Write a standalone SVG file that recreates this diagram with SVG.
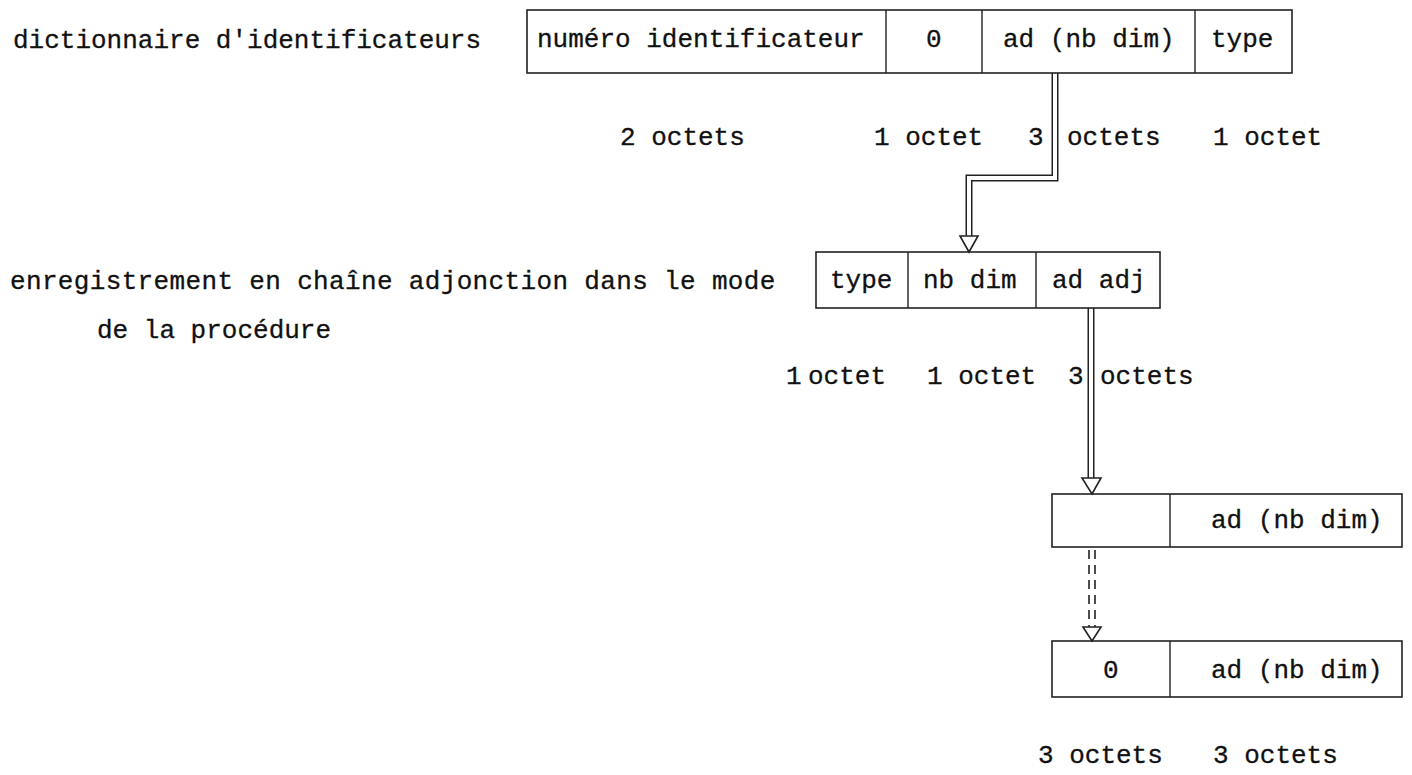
<svg xmlns="http://www.w3.org/2000/svg" width="1412" height="775" viewBox="0 0 1412 775">
<style>
  text { font-family: "Liberation Mono", "DejaVu Sans Mono", monospace; font-size: 26px; fill: #111; stroke: #111; stroke-width: 0.3; }
  .wide { letter-spacing: 0.35px; }
  .box { fill: none; stroke: #222; stroke-width: 1.6; }
  .div { stroke: #222; stroke-width: 1.4; }
  .outer { fill: none; stroke: #222; stroke-width: 7; stroke-linejoin: miter; }
  .inner { fill: none; stroke: #fff; stroke-width: 4; stroke-linejoin: miter; }
  .dash { stroke: #222; stroke-width: 1.6; stroke-dasharray: 9 6; }
  .head { fill: #fff; stroke: #222; stroke-width: 1.6; stroke-linejoin: miter; }
</style>
<rect width="1412" height="775" fill="#fff"/>

<g id="label-dictionnaire">
  <text x="13" y="48">dictionnaire d'identificateurs</text>
</g>
<g id="label-enregistrement">
  <text class="wide" x="10" y="289">enregistrement en chaîne adjonction dans le mode</text>
  <text x="97" y="338">de la procédure</text>
</g>

<g id="connectors">
  <path class="outer" d="M1055,73 V178 H969 V240"/>
  <path class="inner" d="M1055,70 V178 H969 V242"/>
  <polygon class="head" points="960,236 978,236 969,252"/>
  <path class="outer" d="M1091,308 V482"/>
  <path class="inner" d="M1091,306 V484"/>
  <polygon class="head" points="1082,478 1101,478 1092,494"/>
  <line class="dash" x1="1089" y1="550" x2="1089" y2="628"/>
  <line class="dash" x1="1095" y1="550" x2="1095" y2="628"/>
  <polygon class="head" points="1083,627 1101,627 1092,641"/>
</g>

<g id="node-dictionnaire">
  <rect class="box" x="527" y="10" width="765" height="63"/>
  <line class="div" x1="886" y1="10" x2="886" y2="73"/>
  <line class="div" x1="982" y1="10" x2="982" y2="73"/>
  <line class="div" x1="1195" y1="10" x2="1195" y2="73"/>
  <text x="537" y="47">numéro identificateur</text>
  <text x="926" y="47">0</text>
  <text x="1003" y="47">ad (nb dim)</text>
  <text x="1211" y="47">type</text>
</g>
<g id="sizes-dictionnaire">
  <text x="620" y="145">2 octets</text>
  <text x="874" y="145">1 octet</text>
  <text x="1028" y="145">3</text>
  <text x="1067" y="145">octets</text>
  <text x="1213" y="145">1 octet</text>
</g>

<g id="node-enregistrement">
  <rect class="box" x="816" y="252" width="344" height="56"/>
  <line class="div" x1="908" y1="252" x2="908" y2="308"/>
  <line class="div" x1="1036" y1="252" x2="1036" y2="308"/>
  <text x="830" y="288">type</text>
  <text x="923" y="288">nb dim</text>
  <text x="1052" y="288">ad adj</text>
</g>
<g id="sizes-enregistrement">
  <text><tspan x="786" y="384">1</tspan> <tspan x="808" y="384">octet</tspan></text>
  <text x="927" y="384">1 octet</text>
  <text x="1068" y="384">3</text>
  <text x="1100" y="384">octets</text>
</g>

<g id="node-dim1">
  <rect class="box" x="1052" y="494" width="350" height="53"/>
  <line class="div" x1="1170" y1="494" x2="1170" y2="547"/>
  <text x="1211" y="528">ad (nb dim)</text>
</g>

<g id="node-dim2">
  <rect class="box" x="1052" y="641" width="350" height="56"/>
  <line class="div" x1="1170" y1="641" x2="1170" y2="697"/>
  <text x="1103" y="678">0</text>
  <text x="1211" y="678">ad (nb dim)</text>
</g>
<g id="sizes-dim">
  <text x="1038" y="763">3 octets</text>
  <text x="1213" y="763">3 octets</text>
</g>
</svg>
